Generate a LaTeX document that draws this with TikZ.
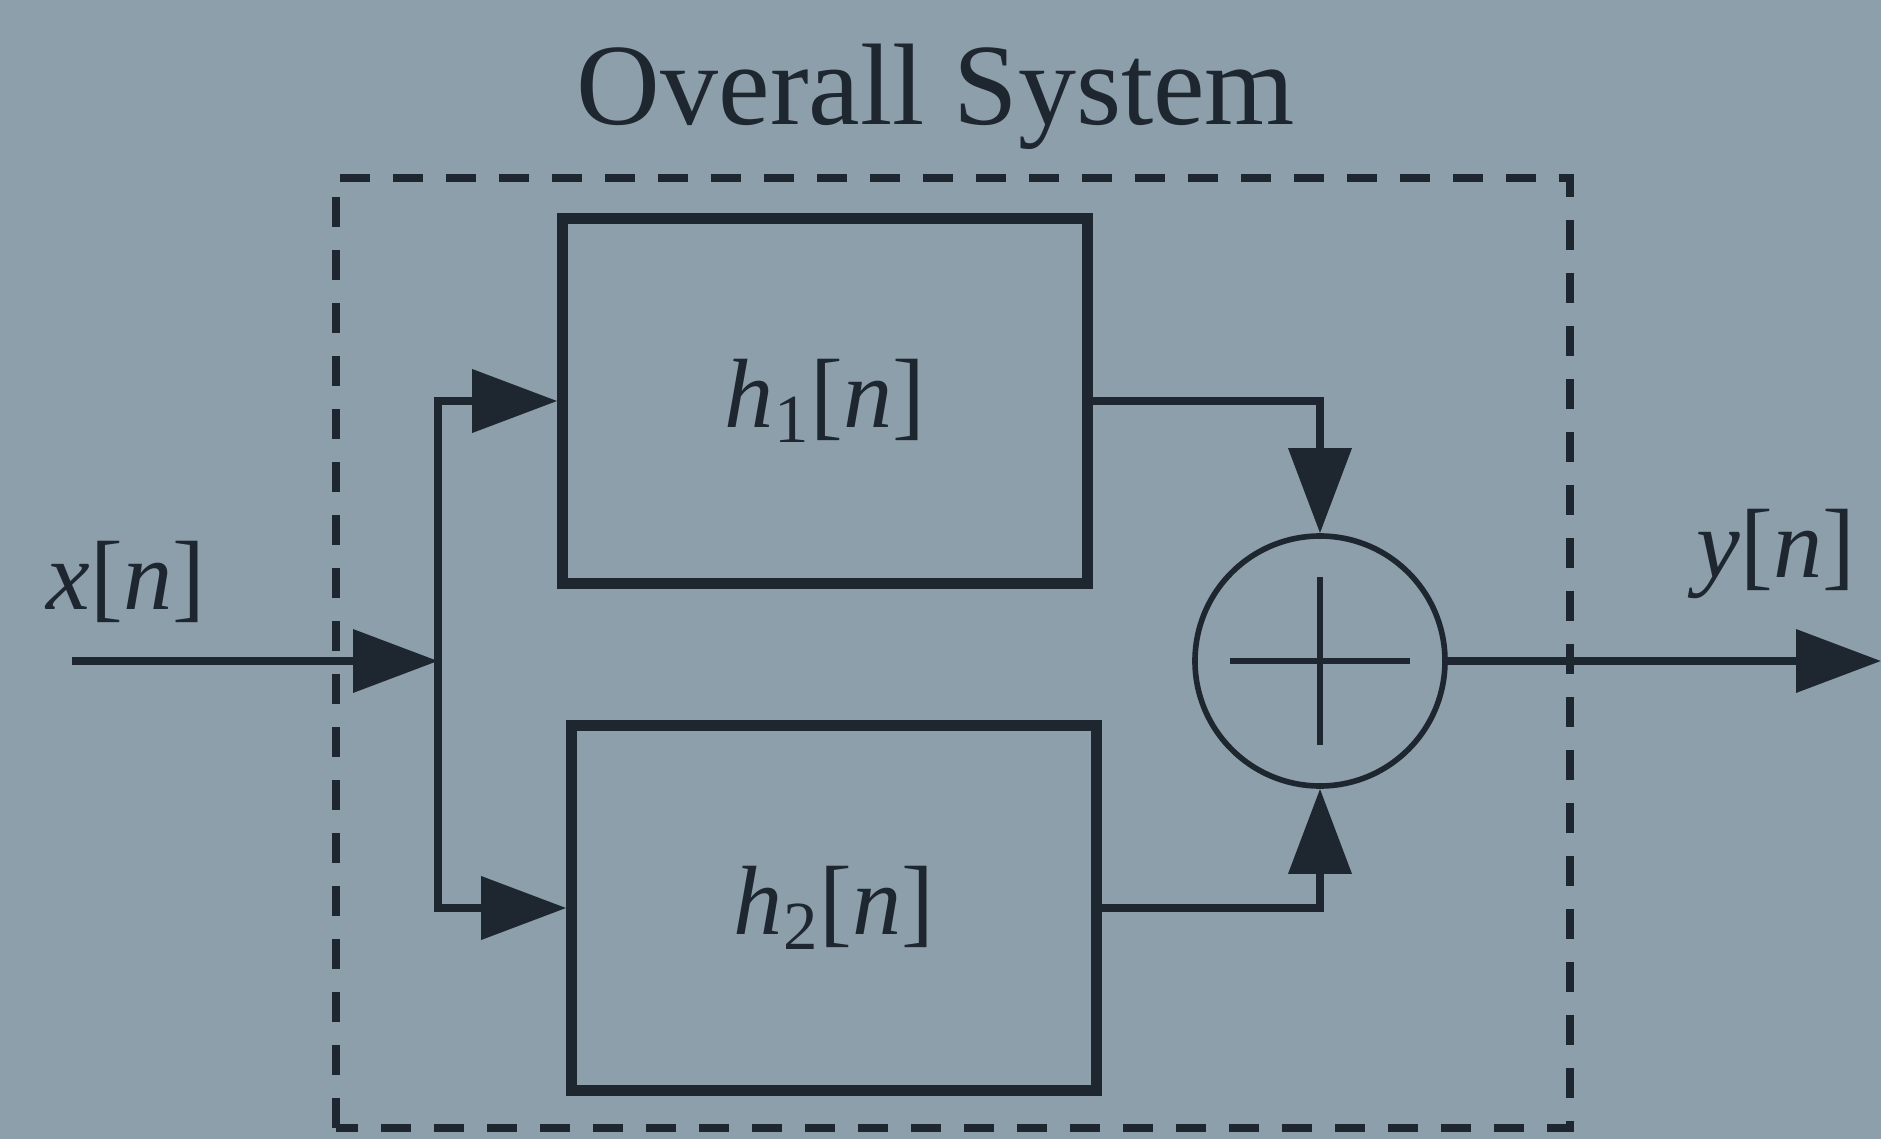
\documentclass[tikz,border=0pt]{standalone}
\usepackage{fontspec}
\setmainfont{Liberation Serif}
\usetikzlibrary{arrows.meta}
\definecolor{paper}{RGB}{140,159,171}
\definecolor{ink}{RGB}{30,38,48}
\tikzset{block/.style={draw=ink,line width=3pt,minimum width=5.25cm,minimum height=3.65cm,
  font=\fontsize{28}{32}\selectfont},
 signal/.style={ink,line width=2pt,-{Triangle[length=0.85cm,width=0.62cm]}},
 summer/.style={circle,draw=ink,line width=1.6pt,minimum size=2.5cm,inner sep=0pt},
 frame/.style={ink,line width=2pt,dash pattern=on 0.3cm off 0.23cm},
 every node/.style={text=ink,font=\fontsize{28}{32}\selectfont}}

\begin{document}
\begin{tikzpicture}
\fill[paper] (0,0) rectangle (18.81,11.39);
\useasboundingbox (0,0) rectangle (18.81,11.39);
\node[anchor=base,font=\fontsize{33}{38}\selectfont] (title) at (9.36,10.15) {Overall System};
\coordinate (ovsw) at (3.36,0.11);
\coordinate (ovne) at (15.70,9.61);
\draw[frame] (ovsw) rectangle (ovne);
\node[block] (h1) at (8.25,7.38) {\textit{h}\textsubscript{1}[\textit{n}]};
\node[block] (h2) at (8.34,2.31) {\textit{h}\textsubscript{2}[\textit{n}]};
\node[summer] (sum) at (13.20,4.78) {};
\draw[ink,line width=1.6pt] ([xshift=-0.9cm]sum.center) -- ([xshift=0.9cm]sum.center)
 ([yshift=-0.84cm]sum.center) -- ([yshift=0.84cm]sum.center);
\coordinate (xin) at (0.72,4.78);
\coordinate (split) at (4.38,4.78);
\coordinate (yout) at (18.81,4.78);
\draw[signal] (xin) -- (split);
\draw[signal] (split) |- (h1.west);
\draw[signal] (split) |- (h2.west);
\draw[signal] (h1.east) -| (sum.north);
\draw[signal] (h2.east) -| (sum.south);
\draw[signal] (sum.east) -- (yout);
\node (xlab) at (1.26,5.57) {\textit{x}[\textit{n}]};
\node (ylab) at (17.76,5.85) {\textit{y}[\textit{n}]};
\end{tikzpicture}
\end{document}
